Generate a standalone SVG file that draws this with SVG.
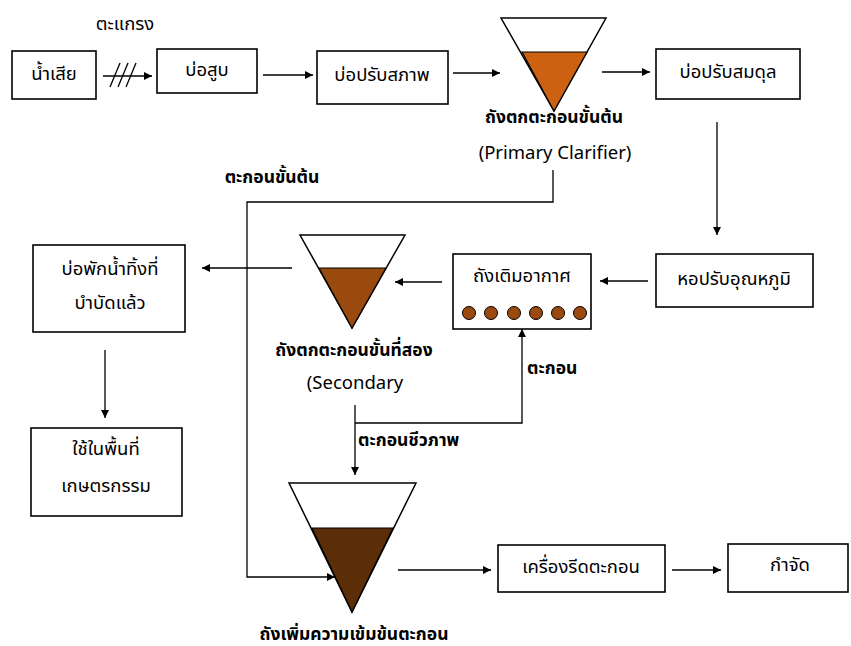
<svg xmlns="http://www.w3.org/2000/svg" width="851" height="646" viewBox="0 0 851 646">
<style>
.box{fill:#fff;stroke:#000;stroke-width:1.6}
.ln{fill:none;stroke:#000;stroke-width:1.3}
.t{font-family:"Noto Sans Thai","Tahoma","DejaVu Sans","Noto Sans",sans-serif;font-size:18.5px;fill:#000;text-anchor:middle;dominant-baseline:central}
.b{font-weight:bold;font-size:17.5px}
.s{text-anchor:start}
.fun{fill:#fff;stroke:#000;stroke-width:1.5}
</style>
<defs>
<marker id="ah" viewBox="0 0 10 10" refX="10" refY="5" markerWidth="10" markerHeight="8" markerUnits="userSpaceOnUse" orient="auto">
<path d="M0,0 L10,5 L0,10 Z" fill="#000"/>
</marker>
</defs>
<rect width="851" height="646" fill="#fff"/>

<g id="connectors">
<line class="ln" x1="103" y1="76" x2="152" y2="76" marker-end="url(#ah)"/>
<line class="ln" x1="110" y1="87" x2="120" y2="63"/>
<line class="ln" x1="118" y1="87" x2="128" y2="63"/>
<line class="ln" x1="126" y1="87" x2="136" y2="63"/>
<line class="ln" x1="263" y1="75" x2="313" y2="75" marker-end="url(#ah)"/>
<line class="ln" x1="453" y1="73" x2="500" y2="73" marker-end="url(#ah)"/>
<line class="ln" x1="602" y1="72" x2="650" y2="72" marker-end="url(#ah)"/>
<line class="ln" x1="717" y1="122" x2="717" y2="235" marker-end="url(#ah)"/>
<line class="ln" x1="648" y1="281" x2="600" y2="281" marker-end="url(#ah)"/>
<line class="ln" x1="442" y1="282" x2="395" y2="282" marker-end="url(#ah)"/>
<line class="ln" x1="292" y1="268" x2="202" y2="268" marker-end="url(#ah)"/>
<line class="ln" x1="105" y1="350" x2="105" y2="418" marker-end="url(#ah)"/>
<polyline class="ln" points="553,170 553,202 247,202 247,577 335,577" marker-end="url(#ah)"/>
<line class="ln" x1="355" y1="405" x2="355" y2="475" marker-end="url(#ah)"/>
<polyline class="ln" points="355,423 522,423 522,329" marker-end="url(#ah)"/>
<line class="ln" x1="398" y1="570" x2="491" y2="570" marker-end="url(#ah)"/>
<line class="ln" x1="672" y1="570" x2="721" y2="570" marker-end="url(#ah)"/>
<text class="t" x="125" y="24">ตะแกรง</text>
<text class="t b" x="272" y="177">ตะกอนขั้นต้น</text>
<text class="t b s" x="527" y="368">ตะกอน</text>
<text class="t b s" x="358" y="440">ตะกอนชีวภาพ</text>
</g>

<g id="n-wastewater">
<rect class="box" x="12" y="51" width="84" height="48"/>
<text class="t" x="54" y="74">น้ำเสีย</text>
</g>
<g id="n-pump">
<rect class="box" x="157" y="49" width="100" height="44"/>
<text class="t" x="207" y="70">บ่อสูบ</text>
</g>
<g id="n-condition">
<rect class="box" x="317" y="51" width="131" height="53"/>
<text class="t" x="382" y="75">บ่อปรับสภาพ</text>
</g>
<g id="n-primary">
<polygon class="fun" points="501,18 606,18 554,111"/>
<polygon points="522,52 587,52 554,111" fill="#CC6111" stroke="#000" stroke-width="1.2"/>
<text class="t b" x="554" y="117">ถังตกตะกอนขั้นต้น</text>
<text class="t" x="555" y="153">(Primary Clarifier)</text>
</g>
<g id="n-equalize">
<rect class="box" x="656" y="49" width="144" height="50"/>
<text class="t" x="728" y="72">บ่อปรับสมดุล</text>
</g>
<g id="n-cooling">
<rect class="box" x="656" y="254" width="157" height="53"/>
<text class="t" x="734" y="279">หอปรับอุณหภูมิ</text>
</g>
<g id="n-aeration">
<rect class="box" x="453" y="254" width="138" height="75"/>
<text class="t" x="522" y="276">ถังเติมอากาศ</text>
<g fill="#9A4A0E" stroke="#000" stroke-width="1">
<circle cx="469" cy="313" r="6.5"/>
<circle cx="491" cy="313" r="6.5"/>
<circle cx="514" cy="313" r="6.5"/>
<circle cx="536" cy="313" r="6.5"/>
<circle cx="558" cy="313" r="6.5"/>
<circle cx="580" cy="313" r="6.5"/>
</g>
</g>
<g id="n-secondary">
<polygon class="fun" points="300,235 405,235 352,328"/>
<polygon points="319,268 386,268 352,328" fill="#9A4A0E" stroke="#000" stroke-width="1.2"/>
<text class="t b" x="354" y="350">ถังตกตะกอนขั้นที่สอง</text>
<text class="t" x="355" y="383">(Secondary</text>
</g>
<g id="n-treated">
<rect class="box" x="33" y="245" width="152" height="87"/>
<text class="t" x="110" y="269">บ่อพักน้ำทิ้งที่</text>
<text class="t" x="110" y="303">บำบัดแล้ว</text>
</g>
<g id="n-agri">
<rect class="box" x="31" y="428" width="151" height="88"/>
<text class="t" x="106" y="449">ใช้ในพื้นที่</text>
<text class="t" x="106" y="486">เกษตรกรรม</text>
</g>
<g id="n-thickener">
<polygon class="fun" points="289,483 416,483 352,612"/>
<polygon points="312,528 393,528 352,612" fill="#5C2E08" stroke="#000" stroke-width="1.2"/>
<text class="t b" x="354" y="634">ถังเพิ่มความเข้มข้นตะกอน</text>
</g>
<g id="n-press">
<rect class="box" x="498" y="545" width="167" height="47"/>
<text class="t" x="581" y="567">เครื่องรีดตะกอน</text>
</g>
<g id="n-dispose">
<rect class="box" x="728" y="544" width="120" height="48"/>
<text class="t" x="790" y="565">กำจัด</text>
</g>
</svg>
